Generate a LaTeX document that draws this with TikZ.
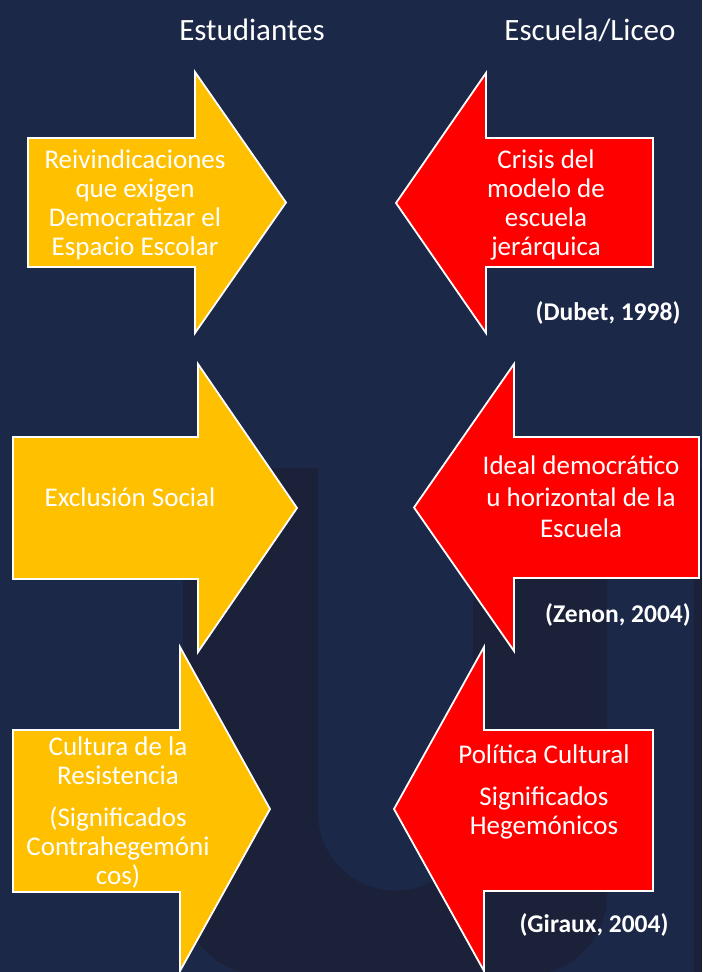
\documentclass[tikz,border=0pt]{standalone}
\usepackage{fontspec}
\setmainfont{Carlito}
\definecolor{navy}{RGB}{28,40,72}
\definecolor{navydark}{RGB}{27,33,57}
\definecolor{gold}{RGB}{255,192,0}
\definecolor{redarrow}{RGB}{255,0,0}
\def\bigarrow#1#2#3#4#5#6#7#8{
  % 1: x of shaft end
  % 2: y of shaft top
  % 3: y of shaft bottom
  % 4: x of head base
  % 5: y of head top
  % 6: y of head bottom
  % 7: x of tip
  % 8: fill colour
  \draw[line width=1.8pt,draw=white,fill=#8,line join=miter]
    (#1,#2) -- (#4,#2) -- (#4,#5) -- (#7,{(#5+#6)/2}) -- (#4,#6) -- (#4,#3) -- (#1,#3) -- cycle;
}
\tikzset{
  arrowtext/.style={text=white,align=center,font=\fontsize{27}{29}\selectfont},
  cite/.style={text=white,font=\bfseries\fontsize{25.5}{30}\selectfont},
  header/.style={text=white,font=\fontsize{31}{36}\selectfont}
}

\begin{document}
\begin{tikzpicture}[x=1pt,y=-1pt]
    \useasboundingbox (0,0) rectangle (702,972);
    \fill[navy] (0,0) rectangle (702,972);
    % faint U in the background
    \fill[navydark] (183,468) -- (607,468) -- (607,895) arc[start angle=0,end angle=90,radius=80]
      -- (263,975) arc[start angle=90,end angle=180,radius=80] -- cycle;
    \fill[navy] (318,468) -- (473,468) -- (473,813) arc[start angle=0,end angle=180,radius=77.5] -- cycle;
    \fill[navydark] (694,468) rectangle (702,972);

    % \bigarrow{shaft x}{shaft top}{shaft bottom}{head x}{head top}{head bottom}{tip x}{colour}
    \bigarrow{28}{138}{267}{195}{72}{333}{286}{gold}
    \bigarrow{653}{138}{267}{486}{73}{333}{396}{redarrow}
    \bigarrow{13}{437}{579}{198}{364}{652}{297}{gold}
    \bigarrow{699}{437}{578}{514}{364}{651}{414}{redarrow}
    \bigarrow{13}{730}{892}{180}{647}{971}{270}{gold}
    \bigarrow{653}{730}{891}{484}{647}{971}{394}{redarrow}

    \node[header] (estud) at (252,30) {Estudiantes};
    \node[header] (escuela) at (590,30) {Escuela/Liceo};

    \node[arrowtext] (reivind) at (135,205) {Reivindicaciones\\que exigen\\Democratizar el\\Espacio Escolar};
    \node[arrowtext] (crisis) at (546,205) {Crisis del\\modelo de\\escuela\\jerárquica};
    \node[cite] (dubet) at (608,313) {(Dubet, 1998)};

    \node[arrowtext] (exclusion) at (130,497) {Exclusión Social};
    \node[arrowtext,font=\fontsize{27}{31.5}\selectfont] (ideal) at (581,497) {Ideal democrático\\u horizontal de la\\Escuela};
    \node[cite] (zenon) at (618,615) {(Zenon, 2004)};

    \node[arrowtext] (cultura) at (118,812) {Cultura de la\\Resistencia\\[13pt](Significados\\Contrahegemóni\\cos)};
    \node[arrowtext] (politica) at (544,792) {Política Cultural\\[13pt]Significados\\Hegemónicos};
    \node[cite] (giraux) at (594,925) {(Giraux, 2004)};
\end{tikzpicture}
\end{document}
